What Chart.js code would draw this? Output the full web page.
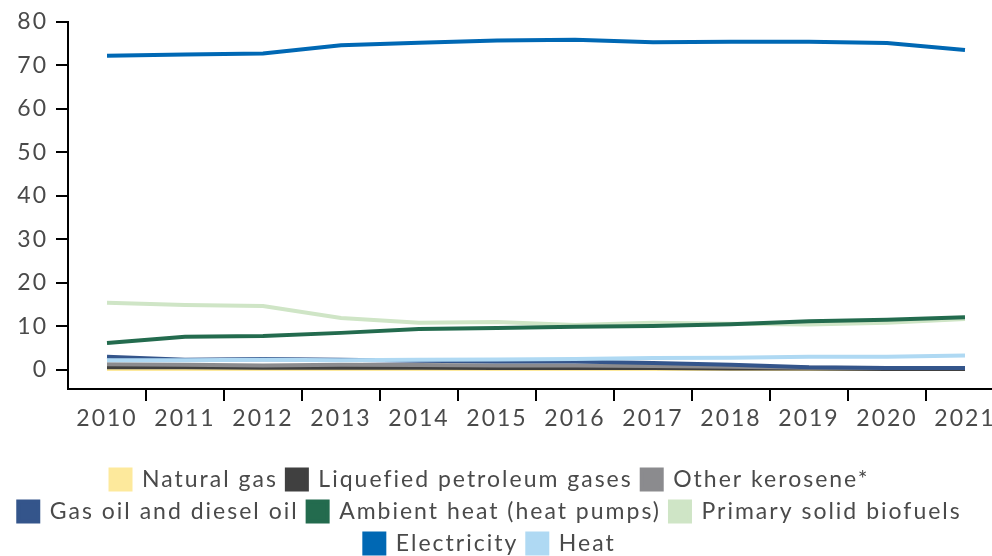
<!DOCTYPE html>
<html>
<head>
  <title>Final energy consumption</title>
  <script src="https://cdn.jsdelivr.net/npm/chart.js"></script>
  <style>
    body {
      margin: 0;
      background: #fff;
      overflow: hidden;
    }
    #chart-wrapper {
      position: relative;
      width: 1004px;
      height: 556px;
    }
  </style>
</head>
<body>
<div id="chart-wrapper">
  <canvas id="chart"></canvas>
</div>

<script>
  const years = ['2010', '2011', '2012', '2013', '2014', '2015', '2016', '2017', '2018', '2019', '2020', '2021'];

  const naturalGas   = [0.2, 0.2, 0.2, 0.2, 0.2, 0.2, 0.2, 0.2, 0.2, 0.2, 0.2, 0.2];
  const lpg          = [0.6, 0.6, 0.5, 0.5, 0.5, 0.4, 0.4, 0.4, 0.3, 0.3, 0.2, 0.2];
  const kerosene     = [1.3, 1.2, 1.0, 1.2, 1.1, 1.0, 1.0, 0.9, 0.7, 0.5, 0.4, 0.4];
  const gasOil       = [3.0, 2.3, 2.5, 2.3, 2.1, 1.9, 1.9, 1.6, 1.2, 0.6, 0.4, 0.4];
  const ambientHeat  = [6.2, 7.6, 7.8, 8.5, 9.4, 9.6, 9.9, 10.1, 10.5, 11.2, 11.5, 12.1];
  const solidBiofuel = [15.4, 14.9, 14.7, 11.9, 10.8, 11.0, 10.3, 10.8, 10.6, 10.4, 10.8, 11.7];
  const electricity  = [72.2, 72.5, 72.7, 74.6, 75.2, 75.7, 75.9, 75.3, 75.4, 75.4, 75.1, 73.5];
  const heat         = [2.2, 2.2, 2.3, 2.2, 2.3, 2.4, 2.5, 2.7, 2.8, 3.0, 3.0, 3.3];

  const yTicks = [0, 10, 20, 30, 40, 50, 60, 70, 80];

  const textColor = '#4a4a4a';
  const fontFamily = 'Lato, sans-serif';

  function series(label, data, color, order) {
    return {
      label,
      data,
      borderColor: color,
      backgroundColor: color,
      borderWidth: 4,
      pointRadius: 0,
      tension: 0,
      order
    };
  }

  // wider letter spacing, the original font runs wide
  const spacing = {
    id: 'spacing',
    beforeLayout(chart) { chart.ctx.letterSpacing = '2px'; },
    beforeDraw(chart) { chart.ctx.letterSpacing = '2px'; }
  };

  // move the legend a bit left, the plot runs past the right edge
  const legendShift = {
    id: 'legendShift',
    afterLayout(chart) {
      chart.legend.left -= 12;
      chart.legend.right -= 12;
    }
  };

  new Chart(document.getElementById('chart'), {
    type: 'line',
    data: {
      labels: years,
      datasets: [
        series('Natural gas', naturalGas, '#fde99c', 8),
        series('Liquefied petroleum gases', lpg, '#404040', 7),
        series('Other kerosene*', kerosene, '#8b8b8e', 6),
        series('Gas oil and diesel oil', gasOil, '#34558b', 5),
        series('Ambient heat (heat pumps)', ambientHeat, '#236b4e', 3),
        series('Primary solid biofuels', solidBiofuel, '#cfe5c6', 4),
        series('Electricity', electricity, '#0068b4', 1),
        series('Heat', heat, '#afd9f3', 2)
      ]
    },
    options: {
      responsive: true,
      maintainAspectRatio: false,
      animation: false,
      layout: { padding: { top: 10, left: 0, right: 0, bottom: -9 } },
      plugins: {
        tooltip: { enabled: false },
        legend: {
          position: 'bottom',
          labels: {
            boxWidth: 20,
            boxHeight: 20,
            padding: 9,
            color: textColor,
            font: { family: fontFamily, size: 23 },
            sort: (a, b) => a.datasetIndex - b.datasetIndex
          }
        }
      },
      scales: {
        x: {
          offset: true,
          afterFit: scale => { scale.height = 70; },
          border: { color: '#000', width: 2 },
          grid: {
            offset: true,
            drawOnChartArea: false,
            tickLength: 12,
            lineWidth: 2,
            color: ctx => ctx.index === 0 ? 'rgba(0,0,0,0)' : '#000'
          },
          ticks: {
            color: textColor,
            padding: 4,
            maxRotation: 0,
            autoSkip: false,
            font: { family: fontFamily, size: 23 }
          }
        },
        y: {
          min: -4.4,
          max: 80,
          afterBuildTicks: scale => {
            scale.ticks = yTicks.map(v => ({ value: v }));
          },
          afterFit: scale => { scale.width = 68; },
          border: { color: '#000', width: 2 },
          grid: {
            drawOnChartArea: false,
            tickLength: 12,
            lineWidth: 2,
            color: '#000'
          },
          ticks: {
            color: textColor,
            padding: 8,
            font: { family: fontFamily, size: 23 }
          }
        }
      }
    },
    plugins: [spacing, legendShift]
  });
</script>
</body>
</html>
